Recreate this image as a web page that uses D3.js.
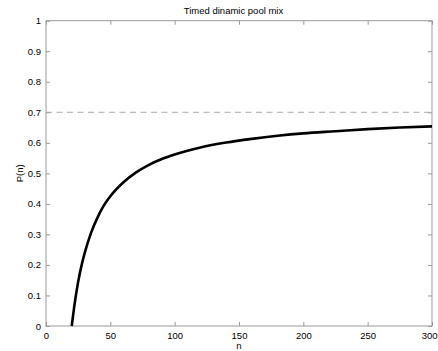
<!DOCTYPE html>
<html>
<head>
<meta charset="utf-8">
<script src="https://cdn.jsdelivr.net/npm/d3@7"></script>
<style>
  body { margin: 0; background: #fff; }
  svg { display: block; font-family: "Liberation Sans", Arial, Helvetica, sans-serif; }
</style>
</head>
<body>
<svg id="chart" width="438" height="351"></svg>
<script>
// values
const nValues = [20, 21, 22, 25, 28, 30, 35, 40, 45, 50, 60, 70, 80, 90, 100, 120, 140, 160, 180, 200, 225, 250, 275, 300];
const pValues = [0, 0.033, 0.065, 0.145, 0.205, 0.238, 0.305, 0.355, 0.395, 0.425, 0.470, 0.503, 0.528, 0.547, 0.562, 0.585, 0.601, 0.613, 0.623, 0.631, 0.638, 0.645, 0.650, 0.654];
const limitValue = 0.7;
const xTicks = [0, 50, 100, 150, 200, 250, 300];
const yTicks = [0, 0.1, 0.2, 0.3, 0.4, 0.5, 0.6, 0.7, 0.8, 0.9, 1];

const svg = d3.select("#chart");
const margin = { left: 46, right: 6, top: 20.7, bottom: 25 };
const width = +svg.attr("width");
const height = +svg.attr("height");
const x0 = margin.left, x1 = width - margin.right;
const y0 = height - margin.bottom, y1 = margin.top;

const x = d3.scaleLinear().domain([0, 300]).range([x0, x1]);
const y = d3.scaleLinear().domain([0, 1]).range([y0, y1]);

const axisColor = "#999";
const tickLen = 4;

function styleAxis(g) {
  g.select(".domain").remove();
  g.selectAll(".tick line").attr("stroke", axisColor);
  g.selectAll(".tick text").attr("fill", "#000").style("font-size", "9.5px");
}

// bottom + top
svg.append("g")
  .attr("transform", `translate(0,${y0})`)
  .call(d3.axisBottom(x).tickValues(xTicks).tickSize(-tickLen).tickPadding(6).tickFormat(d3.format("d")))
  .call(styleAxis)
  .call(g => g.selectAll(".tick text").filter(d => d === 300)
    .attr("text-anchor", "end").attr("x", width - x1 - 1));
svg.append("g")
  .attr("transform", `translate(0,${y1})`)
  .call(d3.axisTop(x).tickValues(xTicks).tickSize(-tickLen).tickFormat(""))
  .call(styleAxis);

// left + right
svg.append("g")
  .attr("transform", `translate(${x0},0)`)
  .call(d3.axisLeft(y).tickValues(yTicks).tickSize(-tickLen).tickPadding(5).tickFormat(d => d === 0 || d === 1 ? d3.format("d")(d) : d3.format(".1f")(d)))
  .call(styleAxis);
svg.append("g")
  .attr("transform", `translate(${x1},0)`)
  .call(d3.axisRight(y).tickValues(yTicks).tickSize(-tickLen).tickFormat(""))
  .call(styleAxis);

// box
svg.append("rect")
  .attr("x", x0).attr("y", y1)
  .attr("width", x1 - x0).attr("height", y0 - y1)
  .attr("fill", "none").attr("stroke", axisColor).attr("stroke-width", 1);

// dashed limit
svg.append("line")
  .attr("x1", x(0)).attr("x2", x(300))
  .attr("y1", y(limitValue)).attr("y2", y(limitValue))
  .attr("stroke", "#aaa").attr("stroke-width", 1)
  .attr("stroke-dasharray", "6,4.5");

// curve
const pts = nValues.map((n, i) => [n, pValues[i]]);
svg.append("path")
  .datum(pts)
  .attr("fill", "none")
  .attr("stroke", "#000")
  .attr("stroke-width", 2.6)
  .attr("d", d3.line().x(d => x(d[0])).y(d => y(d[1])).curve(d3.curveMonotoneX));

// texts
svg.append("text")
  .attr("x", 233.5).attr("y", 14)
  .attr("text-anchor", "middle")
  .style("font-size", "9.5px")
  .text("Timed dinamic pool mix");

svg.append("text")
  .attr("x", (x0 + x1) / 2).attr("y", 349)
  .attr("text-anchor", "middle")
  .style("font-size", "9.5px")
  .text("n");

svg.append("text")
  .attr("transform", `translate(23,${(y0 + y1) / 2}) rotate(-90)`)
  .attr("text-anchor", "middle")
  .style("font-size", "9.5px")
  .text("P(n)");
</script>
</body>
</html>
